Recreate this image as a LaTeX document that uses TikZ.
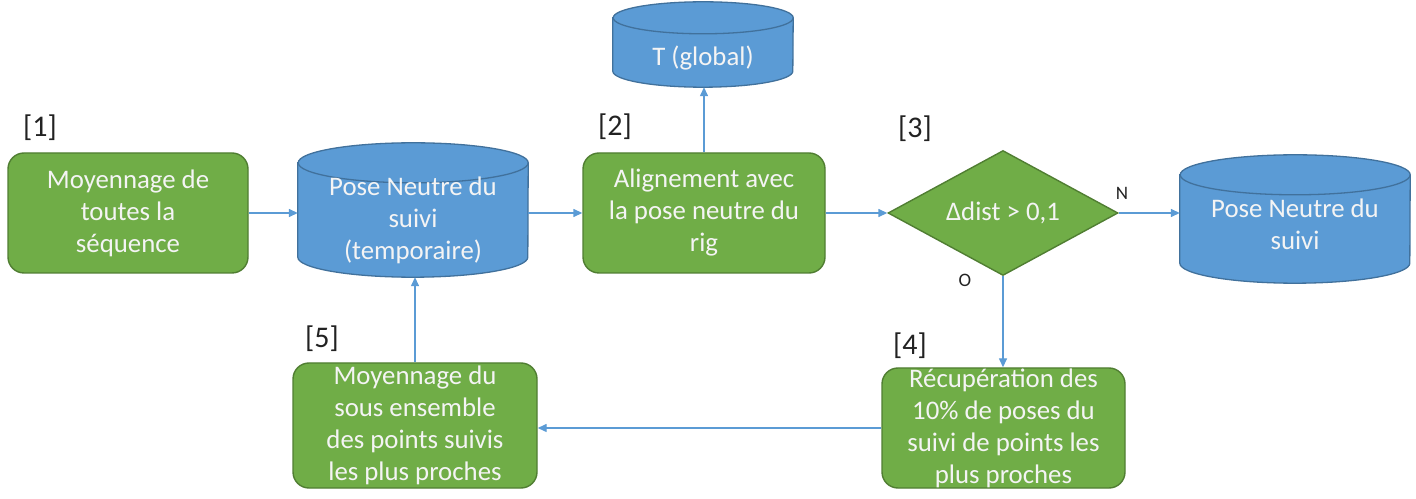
\documentclass[tikz,border=0pt]{standalone}
\usepackage{fontspec}
\setmainfont{Carlito}
\usetikzlibrary{shapes.geometric,arrows.meta,calc}
\definecolor{boxgreen}{HTML}{70AD47}
\definecolor{boxgreenline}{HTML}{507E32}
\definecolor{dbblue}{HTML}{5B9BD5}
\definecolor{dbblueline}{HTML}{41719C}
\definecolor{linkblue}{HTML}{5B9BD5}
\definecolor{txtwhite}{HTML}{F4F4F4}
\definecolor{lbldark}{HTML}{222222}

% cylinder outline around a named node: #1 node, #2 half width, #3 end radius
\newcommand\drawcyl[3]{%
  \path[cylshape] ($(#1.north west)+(0,-#3)$) -- ($(#1.south west)+(0,#3)$)
    arc[start angle=180, end angle=360, x radius=#2, y radius=#3]
    -- ($(#1.north east)+(0,-#3)$)
    arc[start angle=0, end angle=180, x radius=#2, y radius=#3] -- cycle;
  \draw[cylrim] ($(#1.north east)+(0,-#3)$)
    arc[start angle=0, end angle=-180, x radius=#2, y radius=#3];
}

\begin{document}
\begin{tikzpicture}[x=1pt,y=1pt,
  every node/.style={font=\fontsize{26.8}{32}\selectfont},
  stepbox/.style={draw=boxgreenline, line width=1.4pt, fill=boxgreen,
    rounded corners=16pt, text=txtwhite, align=center, inner sep=0pt},
  decision/.style={diamond, draw=boxgreenline, line width=1.4pt, fill=boxgreen,
    text=txtwhite, inner sep=0pt, aspect=1.84},
  cylbox/.style={draw=none, inner sep=0pt},
  cylshape/.style={draw=dbblueline, line width=1.3pt, fill=dbblue},
  cylrim/.style={draw=dbblueline, line width=1.3pt},
  cyltxt/.style={text=txtwhite, align=center, inner sep=0pt},
  steplabel/.style={text=lbldark, inner sep=0pt, font=\fontsize{30}{34}\selectfont},
  branch/.style={text=lbldark, inner sep=0pt, font=\fontsize{19}{22}\selectfont},
  link/.style={draw=linkblue, line width=1.4pt, -{Triangle[length=9pt,width=8pt]}}
]
\useasboundingbox (0,0) rectangle (1416,498);

% process steps
\node[stepbox, minimum width=240, minimum height=120] (b1) at (128,285)
  {Moyennage de\\toutes la\\séquence};
\node[stepbox, minimum width=242, minimum height=120] (b2) at (704,285)
  {Alignement avec\\la pose neutre du\\rig};
\node[decision, minimum width=230, minimum height=125] (d) at (1003,285)
  {Δdist > 0,1};
\node[stepbox, minimum width=243, minimum height=120] (b4) at (1003.5,70)
  {Récupération des\\10\% de poses du\\suivi de points les\\plus proches};
\node[stepbox, minimum width=244, minimum height=125] (b5) at (415,72.5)
  {Moyennage du\\sous ensemble\\des points suivis\\les plus proches};

% data stores
\node[cylbox, minimum width=230, minimum height=134] (c1) at (413,288) {};
\drawcyl{c1}{115}{20}
\node[cyltxt] (c1t) at (413,278) {Pose Neutre du\\suivi\\(temporaire)};

\node[cylbox, minimum width=180, minimum height=85] (cT) at (703,453.5) {};
\drawcyl{cT}{90}{16}
\node[cyltxt] (cTt) at (703,440) {T (global)};

\node[cylbox, minimum width=230, minimum height=128] (c3) at (1295,279) {};
\drawcyl{c3}{115}{20}
\node[cyltxt] (c3t) at (1295,274) {Pose Neutre du\\suivi};

% step numbers
\node[steplabel] (l1) at (40,370) {[1]};
\node[steplabel] (l2) at (615,371) {[2]};
\node[steplabel] (l3) at (915,369) {[3]};
\node[steplabel] (l4) at (910,152) {[4]};
\node[steplabel] (l5) at (322,159) {[5]};

% branch labels
\node[branch] (lN) at (1122,305) {N};
\node[branch] (lO) at (965,218) {O};

% connectors
\draw[link] (b1.east) -- (b1.east -| c1.west);
\draw[link] (b2.west -| c1.east) -- (b2.west);
\draw[link] (b2.north) -- (b2.north |- cT.south);
\draw[link] (b2.east) -- (d.west);
\draw[link] (d.east) -- (d.east -| c3.west);
\draw[link] (d.south) -- (d.south |- b4.north);
\draw[link] (b4.west) -- (b4.west -| b5.east);
\draw[link] (b5.north) -- (b5.north |- c1.south);
\end{tikzpicture}
\end{document}
